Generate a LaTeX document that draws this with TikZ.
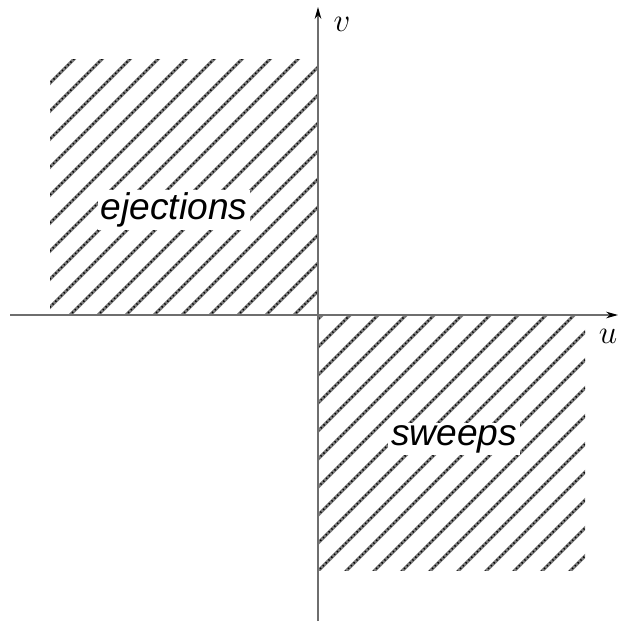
\documentclass[tikz,border=0pt]{standalone}
\usepackage{fontspec}
\usepackage{tikz}
\usetikzlibrary{arrows.meta}
\newfontfamily\quadfont{Liberation Sans}
\definecolor{axisink}{RGB}{110,110,110}
\definecolor{hatchink}{RGB}{125,125,125}

\tikzset{
  hatchline/.style={hatchink, line width=2.4pt},
  hatchdots/.style={black, line width=1.2pt, dash pattern=on 1pt off 2pt},
  axisline/.style={axisink, line width=0.8pt, -{Stealth[black, length=9pt, width=5pt]}},
  quadlabel/.style={fill=white, inner sep=2pt, font=\quadfont\itshape\fontsize{28}{30}\selectfont},
  axislabel/.style={inner sep=0pt, font=\fontsize{27}{30}\selectfont}
}

\begin{document}
\begin{tikzpicture}[x=0.0265cm, y=-0.0265cm]
  \useasboundingbox (0,0) rectangle (620,623);
  \begin{scope}
    \clip (50,60) rectangle (318,315);
    \foreach \k in {-1,...,18} {
      \draw[hatchline] ({133+28*\k+200},-200) -- ({133+28*\k-800},800);
      \draw[hatchdots] ({133+28*\k+200},-200) -- ({133+28*\k-800},800);
    }
  \end{scope}
  \begin{scope}
    \clip (318,315) rectangle (585,570);
    \foreach \k in {17,...,38} {
      \draw[hatchline] ({133+28*\k+200},-200) -- ({133+28*\k-800},800);
      \draw[hatchdots] ({133+28*\k+200},-200) -- ({133+28*\k-800},800);
    }
  \end{scope}
  \coordinate (uwest) at (10,315);
  \coordinate (ueast) at (618,315);
  \coordinate (vsouth) at (318,621);
  \coordinate (vnorth) at (318,7);
  \draw[axisline] (uwest) -- (ueast);
  \draw[axisline] (vsouth) -- (vnorth);
  \node[axislabel] (vlabel) at (342,24) {$v$};
  \node[axislabel] (ulabel) at (608,336) {$u$};
  \node[quadlabel] (eject) at (174,210) {ejections};
  \node[quadlabel] (sweep) at (454,439) {sweeps};
\end{tikzpicture}
\end{document}
